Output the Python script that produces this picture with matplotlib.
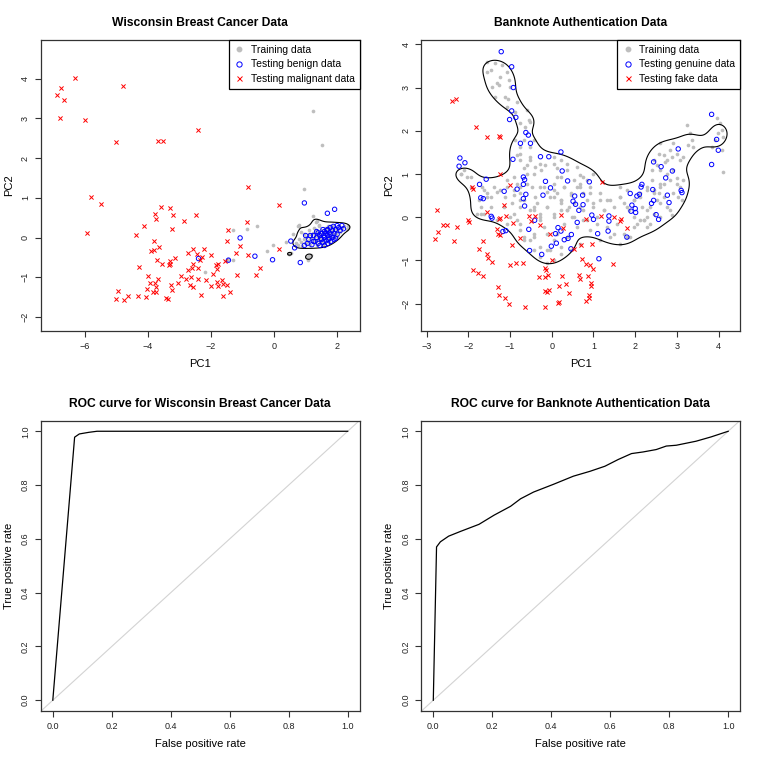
import numpy as np
import matplotlib
matplotlib.use('Agg')
import matplotlib.pyplot as plt
from matplotlib.lines import Line2D

plt.rcParams['font.family'] = ['Liberation Sans', 'DejaVu Sans']

# ---- Wisconsin breast cancer PCA scores ----
wbc_train = [
    (1.23, 3.18), (1.53, 2.32), (0.94, 1.22), (1.23, 0.54), (1.42, 0.31), (-0.53, 0.28),
    (-0.87, 0.22), (-1.29, 0.2), (-2.19, -0.88), (-1.29, -0.57), (-0.24, -0.35), (-0.03, -0.18),
    (0.39, -0.11), (0.46, -0.42), (0.6, 0.1), (0.86, 0.14), (1.07, -0.57), (-1.5, -0.57), (-1.45, -0.55),
    (0.75, -0.2), (0.85, -0.12), (0.9, -0.22), (0.95, -0.05), (1.0, -0.15), (1.02, 0.02), (1.08, -0.1),
    (1.12, 0.08), (1.15, -0.2), (1.2, -0.02), (1.22, 0.12), (1.28, -0.12), (1.3, 0.05), (1.33, 0.2),
    (1.38, -0.05), (1.4, 0.12), (1.45, -0.15), (1.47, 0.02), (1.5, 0.18), (1.53, -0.08), (1.56, 0.08),
    (1.6, 0.25), (1.62, -0.12), (1.65, 0.02), (1.68, 0.15), (1.72, -0.05), (1.75, 0.1), (1.78, 0.28),
    (1.82, 0.0), (1.85, 0.18), (1.88, 0.08), (1.92, 0.25), (1.95, 0.12), (2.0, 0.2), (2.05, 0.3),
    (2.1, 0.15), (2.15, 0.25), (2.22, 0.3), (2.3, 0.22), (1.35, -0.2), (1.55, -0.18), (1.7, 0.3),
    (1.9, -0.02), (1.25, 0.25), (1.1, 0.2), (0.95, 0.1), (1.42, 0.3), (1.6, 0.0), (1.8, 0.12),
    (1.45, 0.08), (1.15, -0.05), (1.65, 0.22), (2.0, 0.05), (1.75, -0.12), (1.3, -0.08), (1.5, 0.0),
    (1.7, 0.08), (1.85, 0.3), (1.58, 0.15), (1.38, 0.05), (0.7, -0.15), (0.8, -0.05), (2.35, 0.28),
    (0.76, 0.3), (0.8, 0.32), (1.32, 0.4), (1.36, 0.42), (1.05, -0.5), (1.12, -0.46), (1.18, -0.43),
    (0.48, -0.42), (0.52, -0.4),
]
wbc_benign = [
    (-2.4, -0.53), (-1.45, -0.57), (-1.08, -0.01), (-0.61, -0.47), (-0.05, -0.56), (0.96, 0.87),
    (1.69, 0.61), (1.92, 0.71), (0.53, -0.09), (0.65, -0.26), (0.83, -0.63), (0.96, -0.2), (1.0, 0.05),
    (1.3, -0.1), (1.35, 0.0), (1.4, -0.15), (1.45, 0.05), (1.5, -0.05), (1.5, 0.1), (1.55, -0.12),
    (1.6, 0.0), (1.6, 0.15), (1.65, -0.08), (1.7, 0.05), (1.7, 0.2), (1.75, -0.02), (1.75, 0.12),
    (1.8, 0.08), (1.8, -0.1), (1.85, 0.0), (1.85, 0.18), (1.9, 0.1), (1.9, -0.05), (1.95, 0.2),
    (2.0, 0.08), (2.05, 0.25), (2.1, 0.18), (2.15, 0.3), (2.2, 0.22), (1.55, 0.2), (1.65, 0.1),
    (1.45, -0.2), (1.4, 0.12), (1.25, 0.05), (1.2, -0.18), (1.1, -0.05), (1.05, -0.15), (1.95, -0.02),
    (2.0, 0.3), (1.7, -0.15), (1.6, -0.2), (1.35, 0.15), (1.78, 0.25), (1.58, 0.05), (1.68, 0.18),
    (1.88, 0.28), (1.48, -0.02), (1.72, -0.05), (1.15, 0.05), (1.25, -0.1),
]
wbc_malignant = [
    (-6.33, 4.02), (-6.89, 3.58), (-6.75, 3.75), (-6.68, 3.45), (-6.79, 3.0), (-6.0, 2.95), (-4.8, 3.82),
    (-5.01, 2.40), (-3.68, 2.44), (-3.54, 2.44), (-2.42, 2.71), (-0.84, 1.28), (-5.82, 1.02), (-5.51, 0.85),
    (-5.94, 0.12), (0.14, 0.81), (-0.87, 0.39), (-0.84, -0.43), (0.14, -0.28), (-1.46, 0.2), (-1.49, -0.09),
    (-1.21, -0.38), (-1.08, -0.22), (-1.19, -0.95), (-0.45, -0.76), (-0.58, -0.94), (-1.56, -0.60),
    (-1.4, -1.37), (-1.64, -1.08), (-1.61, -1.16), (-1.63, -1.48), (-1.51, -1.2), (-1.81, -0.8),
    (-1.77, -0.66), (-1.84, -0.7), (-1.93, -0.92), (-2.0, -0.43), (-1.82, -1.12), (-2.0, -1.23),
    (-1.79, -1.22), (-2.17, -1.08), (-2.32, -1.44), (-2.24, -0.28), (-2.28, -0.49), (-2.35, -0.57),
    (-2.42, -0.76), (-2.42, -1.04), (-2.45, -0.41), (-2.47, 0.56), (-2.58, -0.28), (-2.58, -0.66),
    (-2.61, -0.76), (-2.63, -1.0), (-2.66, -1.2), (-2.59, -1.24), (-2.73, -0.39), (-2.74, -0.81),
    (-2.79, -1.05), (-2.87, 0.41), (-2.97, -0.98), (-3.04, -1.14), (-3.14, -0.52), (-3.32, 0.74),
    (-3.2, 0.56), (-3.25, 0.21), (-3.32, -0.59), (-3.29, -0.66), (-3.33, -0.7), (-3.26, -1.19),
    (-3.25, -1.33), (-3.38, -1.54), (-3.44, -1.52), (-3.56, -0.66), (-3.58, 0.77), (-3.64, -0.24),
    (-3.72, -0.57), (-3.69, -1.04), (-3.75, 0.46), (-3.78, 0.6), (-3.82, -0.09), (-3.82, -0.32),
    (-3.92, -0.34), (-3.74, -1.24), (-3.75, -1.37), (-3.79, -1.14), (-3.86, -1.37), (-3.93, -1.14),
    (-3.99, -0.97), (-4.05, -1.29), (-4.07, -1.5), (-4.14, 0.29), (-4.28, -0.73), (-4.33, -1.47),
    (-4.37, 0.07), (-4.64, -1.47), (-4.77, -1.58), (-4.96, -1.35), (-5.03, -1.54),
]

# ---- Banknote authentication PCA scores ----
bank_train = [
    (-1.54, 3.58), (-1.46, 3.41), (-1.54, 3.35), (-1.35, 3.56), (-1.19, 3.52), (-1.23, 3.25), (-1.07, 3.37),
    (-1.43, 3.02), (-1.27, 3.06), (-1.31, 3.1), (-1.03, 3.17), (-0.99, 3.02), (-1.35, 2.79), (-1.11, 2.79),
    (-1.05, 2.73), (-0.83, 2.67), (-1.07, 2.56), (-0.87, 2.44), (-0.59, 2.48), (-0.55, 2.25), (-0.75, 2.17),
    (-0.63, 2.09), (-0.51, 2.21), (-0.67, 1.78), (-0.87, 1.78), (-0.51, 1.63), (-0.75, 1.63), (-0.43, 1.78),
    (-0.83, 1.44), (-0.75, 1.32), (-0.51, 1.32), (-0.39, 1.17), (-0.67, 1.13), (-0.59, 1.2), (-0.26, 1.09),
    (-0.15, 1.2), (0.05, 1.24), (0.13, 1.13), (0.21, 1.32), (0.37, 1.09), (0.21, 0.93), (0.05, 0.78),
    (0.29, 0.7), (0.53, 0.86), (0.61, 0.7), (0.68, 0.97), (0.84, 0.86), (0.76, 0.55), (0.45, 0.51),
    (-2.1, 1.09), (-2.18, 1.01), (-2.02, 0.93), (-1.94, 0.7), (-1.66, 0.7), (-1.54, 0.55), (-1.7, 0.24),
    (-1.62, 0.08), (-1.78, 0.08), (-1.46, 0.47), (-1.39, 0.7), (-1.31, 0.59), (-1.07, 0.7), (-1.11, 0.47),
    (-0.95, 0.32), (-0.91, 0.51), (-0.83, 0.78), (-0.75, 0.55), (-0.67, 0.39), (-0.47, 0.7), (-0.39, 0.47),
    (-0.27, 0.7), (-0.11, 0.59), (-0.03, 0.47), (0.13, 0.55), (0.21, 0.39), (-0.43, 0.24), (-0.27, 0.08),
    (-0.11, 0.24), (0.05, 0.08), (0.21, 0.16), (0.41, 0.24), (0.49, 0.0), (0.68, 0.24), (0.84, 0.39),
    (-0.75, 1.47), (-0.51, 1.4), (-0.27, 1.24), (0.05, 1.4), (0.37, 1.24), (0.61, 1.17), (0.76, 0.93),
    (1.0, 1.01), (0.92, 0.7), (-0.43, 1.01), (-0.59, 0.78), (-0.19, 0.7), (0.13, 0.93), (0.29, 0.7),
    (0.45, 0.55), (0.68, 0.78), (0.05, 0.47), (0.21, 0.32), (-0.11, 0.24), (-0.27, 0.01), (-0.43, 0.16),
    (-0.75, 0.39), (-0.91, 0.63), (-0.99, 0.01), (-0.75, -0.15), (-0.43, -0.38), (-0.19, -0.22),
    (0.05, 0.01), (0.29, -0.15), (0.53, 0.01), (0.76, 0.16), (1.0, 0.32), (1.16, 0.55), (1.32, 0.39),
    (1.48, 0.24), (1.64, 0.47), (1.8, 0.24), (1.96, 0.39), (2.12, 0.55), (2.28, 0.16), (2.12, -0.07),
    (1.96, -0.22), (1.8, -0.46), (1.56, -0.15), (1.4, -0.46), (1.16, -0.53), (0.92, -0.3), (0.68, -0.61),
    (0.45, -0.76), (0.21, -0.84), (-0.03, -0.76), (-0.27, -0.92), (-0.43, -0.76), (-0.51, -0.53),
    (-0.67, -0.46), (0.05, -1.0), (-0.11, -1.07), (0.37, -0.46), (0.61, -0.22), (1.08, -0.15),
    (0.84, -0.07), (1.24, 0.16), (0.37, 0.16), (0.13, -0.38),
    (3.23, 2.13), (3.31, 1.94), (3.35, 1.78), (3.39, 1.63), (3.27, 1.67), (2.91, 1.71), (2.83, 1.55),
    (2.6, 1.71), (2.56, 1.47), (2.68, 1.44), (2.75, 1.32), (2.87, 1.4), (2.99, 1.47), (3.07, 1.32),
    (3.15, 1.4), (2.71, 1.28), (2.52, 1.2), (2.44, 1.32), (2.4, 1.09), (2.6, 1.09), (2.75, 1.01),
    (2.91, 1.09), (2.99, 0.9), (2.83, 0.86), (2.68, 0.78), (2.6, 0.7), (2.44, 0.63), (2.28, 0.7),
    (2.56, 0.55), (2.68, 0.47), (2.6, 0.32), (2.75, 0.24), (2.83, 0.16), (2.87, 0.05), (2.44, 0.08),
    (2.28, 0.01), (2.2, -0.07), (2.36, -0.15), (2.6, 0.01), (2.91, 0.55), (3.03, 0.47), (2.99, 0.78),
    (3.11, 0.39), (3.95, 2.29), (4.03, 2.17), (3.99, 1.94), (4.07, 2.02), (4.11, 1.86), (3.91, 1.78),
    (3.83, 1.63), (4.07, 1.55), (4.11, 1.05), (3.07, 0.7), (3.15, 0.86),
    (1.64, 0.47), (1.72, 0.32), (1.84, 0.16), (1.96, 0.01), (2.04, -0.15), (2.2, -0.07), (2.28, -0.22),
    (2.16, 0.24), (2.36, 0.24), (2.52, 0.39), (2.44, 0.55), (2.6, 0.78), (2.4, 0.86), (2.28, 0.63),
    (2.12, 0.47), (1.96, 0.39), (1.8, 0.63), (1.64, 0.7), (1.4, 0.39), (1.24, 0.16), (1.16, 0.39),
    (1.0, 0.24), (0.92, 0.55), (1.08, 0.01), (1.32, -0.22), (1.48, -0.38), (1.72, -0.38), (1.88, -0.46),
    (1.64, -0.61),
    (-2.18, 1.01), (-1.94, 0.93), (-1.62, 0.63), (-1.54, 0.47), (-1.74, 0.39), (-1.7, 0.08), (-1.46, 0.24),
    (-1.23, 0.63), (-1.07, 0.86), (-0.91, 0.93), (-0.75, 0.7), (-0.59, 1.01), (-1.15, 0.24), (-0.91, 0.08),
    (-0.83, -0.07), (-1.07, -0.15), (-1.31, -0.07), (-0.75, 0.24), (-0.51, 0.16), (-0.35, 0.32),
    (-0.27, -0.07), (-0.11, -0.38), (-0.43, -0.46), (-0.67, -0.53), (-0.75, -0.3), (-0.27, -0.69),
    (-0.11, -0.76), (0.05, -0.53), (0.21, -0.69), (0.37, 0.16), (0.53, 0.32), (0.05, 0.63), (0.21, 0.39),
    (0.68, 0.7), (0.76, -0.07),
]
bank_genuine = [
    (-1.21, 3.83), (-0.96, 3.48), (-0.92, 3.0), (-0.96, 2.46), (-1.01, 2.26), (-0.86, 2.31), (-0.62, 1.96),
    (-0.56, 1.9), (-0.75, 1.71), (-0.51, 1.71), (-0.93, 1.34), (-0.27, 1.4), (-0.07, 1.4), (0.22, 1.51),
    (0.25, 1.07), (0.38, 0.84), (-2.2, 1.37), (-2.22, 1.18), (-2.08, 1.26), (-1.57, 0.88), (-1.73, 0.76),
    (-1.7, 0.45), (-1.64, 0.43), (-1.14, 0.6), (-0.83, 0.65), (-0.68, 0.93), (-0.65, 0.87), (-0.68, 0.76),
    (-0.62, 0.53), (-0.68, 0.43), (-0.65, 0.26), (-1.45, 0.02), (-1.43, -0.02), (-1.17, -0.33),
    (-1.1, -0.31), (-0.55, -0.28), (-0.53, -0.77), (-0.41, -0.07), (-0.21, 0.51), (-0.15, 0.83),
    (-0.03, 0.68), (-0.24, -0.86), (-0.01, -0.67), (0.09, -0.38), (0.11, -0.6), (0.15, -0.24),
    (0.22, -0.32), (0.3, -0.52), (0.39, -0.49), (0.47, -0.4), (0.46, -0.73), (0.55, 0.49), (0.51, 0.37),
    (0.57, 0.3), (0.65, 0.16), (0.61, -0.12), (0.74, 0.51), (0.75, 0.29), (0.9, 0.82), (0.96, 0.05),
    (1.0, -0.05), (1.1, -0.38), (1.13, -0.96), (1.35, -0.32), (1.37, 0.03), (1.37, -0.09), (1.8, -0.46),
    (1.88, 0.55), (1.92, 0.28), (1.9, 0.14), (2.0, 0.2), (2.01, 0.11), (2.04, 0.49), (2.1, 0.53),
    (2.16, 0.76), (2.14, 0.7), (2.42, 0.64), (2.44, 0.39), (2.39, 0.32), (2.44, 1.28), (2.62, 1.17),
    (2.5, 0.06), (2.56, -0.05), (2.73, 0.91), (2.89, 1.07), (2.77, 0.51), (2.81, 0.34), (3.03, 1.58),
    (3.1, 0.62), (3.12, 0.57), (3.83, 2.38), (3.95, 1.8), (3.99, 1.55), (3.83, 1.22),
]
bank_fake = [
    (-2.38, 2.69), (-2.29, 2.73), (-1.81, 2.09), (-1.56, 1.86), (-1.26, 1.88), (-1.24, 1.85), (-1.24, 1.01),
    (-1.01, 0.74), (-1.14, 0.28), (-1.09, 0.03), (-0.92, -0.13), (-1.26, -0.05), (-1.25, -0.02),
    (-1.32, -0.28), (-1.29, -0.38), (-1.25, -0.4), (-0.95, -0.65), (-0.77, -0.49), (-1.01, -1.1),
    (-0.86, -1.05), (-0.7, -1.05), (-1.56, 0.12), (-1.64, -0.56), (-1.75, -0.74), (-1.56, -0.86),
    (-1.53, -0.94), (-1.44, -1.03), (-1.9, 0.7), (-1.89, 0.65), (-2.0, -0.07), (-1.98, -0.1),
    (-2.27, -0.22), (-2.33, -0.56), (-2.5, -0.19), (-2.61, -0.19), (-2.72, -0.34), (-2.76, 0.16),
    (-2.79, -0.51), (-1.88, -1.23), (-1.76, -1.28), (-1.64, -1.36), (-1.28, -1.61), (-1.27, -1.79),
    (-1.12, -1.87), (-1.02, -2.01), (-0.65, -2.08), (-0.16, -2.08), (-0.55, 0.03), (-0.49, -0.09),
    (-0.41, 0.03), (-0.28, -0.19), (-0.03, -0.38), (0.01, -0.98), (-0.15, -1.17), (-0.13, -1.23),
    (-0.3, -1.38), (-0.17, -1.38), (-0.08, -1.34), (-0.16, -1.71), (-0.07, -1.69), (-0.11, -1.73),
    (0.17, -1.97), (0.15, -1.98), (0.17, -1.58), (0.24, -1.37), (0.33, -1.55), (0.41, -1.75),
    (0.21, 0.05), (0.27, -0.24), (0.54, -0.73), (0.69, -0.65), (0.65, -1.33), (0.67, -1.42), (0.82, -0.05),
    (0.73, -0.97), (0.82, -1.09), (0.91, -1.1), (0.98, -1.19), (0.86, -1.37), (0.93, -1.51), (0.94, -1.6),
    (0.89, -1.81), (0.9, -1.86), (0.81, -1.94), (0.97, -0.63), (1.19, 0.02), (1.2, 0.82), (1.46, -1.09),
    (1.48, 0.01), (1.63, -0.08), (1.66, -0.05), (1.8, -0.24),
]

# ---- ROC curves ----
roc_wbc_fpr = [0.0, 0.074, 0.09, 0.122, 0.15, 1.0]
roc_wbc_tpr = [0.0, 0.978, 0.99, 0.996, 1.0, 1.0]
roc_bank_fpr = [0.0, 0.011, 0.024, 0.052, 0.093, 0.155, 0.206, 0.262, 0.296, 0.34, 0.408, 0.475,
                0.531, 0.582, 0.627, 0.672, 0.711, 0.756, 0.79, 0.824, 0.891, 0.942, 1.0]
roc_bank_tpr = [0.0, 0.57, 0.589, 0.61, 0.628, 0.654, 0.688, 0.721, 0.749, 0.774, 0.803, 0.833,
                0.851, 0.87, 0.895, 0.917, 0.923, 0.932, 0.945, 0.948, 0.963, 0.979, 1.0]


def kde2d(px, py, hx, hy, xg, yg):
    gx = np.exp(-0.5 * ((xg[:, None] - px[None, :]) / hx) ** 2)
    gy = np.exp(-0.5 * ((yg[:, None] - py[None, :]) / hy) ** 2)
    return gy @ gx.T / (len(px) * 2 * np.pi * hx * hy)


def density_contour(ax, pts, hx, hy, frac):
    px, py = pts[:, 0], pts[:, 1]
    x0, x1 = ax.get_xlim()
    y0, y1 = ax.get_ylim()
    xg = np.linspace(x0, x1, 300)
    yg = np.linspace(y0, y1, 300)
    z = kde2d(px, py, hx, hy, xg, yg)
    dens = np.array([kde2d(px, py, hx, hy, np.array([a]), np.array([b]))[0, 0] for a, b in pts])
    level = np.quantile(dens, frac)
    ax.contour(xg, yg, z, levels=[level], colors='black', linewidths=0.8)


def style(ax, xticks, yticks, fmt=None):
    ax.set_xticks(xticks)
    ax.set_yticks(yticks)
    if fmt:
        ax.set_xticklabels([fmt % t for t in xticks])
        ax.set_yticklabels([fmt % t for t in yticks])
    ax.tick_params(direction='out', length=4, width=0.8, labelsize=6.5, pad=4, color='#333333',
                   labelcolor='#222222')
    for lab in ax.get_yticklabels():
        lab.set_rotation(90)
        lab.set_va('center')
    for s in ax.spines.values():
        s.set_linewidth(0.9)
        s.set_color('#333333')


def scatter_panel(ax, train, test_a, test_b, xlim, ylim, labels, title, bw, frac):
    train, test_a, test_b = np.array(train), np.array(test_a), np.array(test_b)
    ax.set_xlim(*xlim)
    ax.set_ylim(*ylim)
    ax.scatter(train[:, 0], train[:, 1], s=7, color='#BEBEBE', linewidths=0, zorder=2)
    density_contour(ax, train, bw[0], bw[1], frac)
    ax.scatter(test_a[:, 0], test_a[:, 1], s=10, facecolors='none', edgecolors='blue',
               linewidths=0.7, zorder=3)
    ax.scatter(test_b[:, 0], test_b[:, 1], s=9, marker='x', color='red', linewidths=0.7, zorder=3)
    handles = [
        Line2D([], [], ls='none', marker='o', ms=3.2, color='#BEBEBE'),
        Line2D([], [], ls='none', marker='o', ms=3.8, mfc='none', mec='blue', mew=0.7),
        Line2D([], [], ls='none', marker='x', ms=3.6, color='red', mew=0.7),
    ]
    leg = ax.legend(handles, labels, loc='upper right', fontsize=7.5, frameon=True, fancybox=False,
                    borderaxespad=0, handlelength=1.2, handletextpad=0.5, borderpad=0.45,
                    labelspacing=0.45, framealpha=1)
    leg.get_frame().set_edgecolor('black')
    leg.get_frame().set_linewidth(0.9)
    leg.set_zorder(5)
    ax.set_title(title, fontsize=8.7, fontweight='bold', pad=10)
    ax.set_xlabel('PC1', fontsize=8, labelpad=6)
    ax.set_ylabel('PC2', fontsize=8, labelpad=5)


def roc_panel(ax, fpr, tpr, title):
    ax.set_xlim(-0.04, 1.04)
    ax.set_ylim(-0.04, 1.04)
    ax.axline((0, 0), (1, 1), color='#D3D3D3', lw=0.8)
    ax.plot(fpr, tpr, color='black', lw=0.9)
    style(ax, np.arange(0, 1.01, 0.2), np.arange(0, 1.01, 0.2), '%.1f')
    ax.set_title(title, fontsize=8.7, fontweight='bold', pad=10)
    ax.set_xlabel('False positive rate', fontsize=8, labelpad=6)
    ax.set_ylabel('True positive rate', fontsize=8, labelpad=5)


W = 761
fig = plt.figure(figsize=(7.61, 7.61), dpi=100)


def panel(col, row):
    left = col * W / 2 + 41
    right = (col + 1) * W / 2 - 21
    top = row * W / 2 + 40
    bottom = (row + 1) * W / 2 - 50
    return fig.add_axes([left / W, 1 - bottom / W, (right - left) / W, (bottom - top) / W])


ax1 = panel(0, 0)
scatter_panel(ax1, wbc_train, wbc_benign, wbc_malignant, (-7.40, 2.71), (-2.34, 4.97),
              ['Training data', 'Testing benign data', 'Testing malignant data'],
              'Wisconsin Breast Cancer Data', (0.17, 0.09), 0.2)
style(ax1, [-6, -4, -2, 0, 2], [-2, -1, 0, 1, 2, 3, 4])

ax2 = panel(1, 0)
scatter_panel(ax2, bank_train, bank_genuine, bank_fake, (-3.12, 4.51), (-2.62, 4.10),
              ['Training data', 'Testing genuine data', 'Testing fake data'],
              'Banknote Authentication Data', (0.28, 0.2), 0.03)
style(ax2, [-3, -2, -1, 0, 1, 2, 3, 4], [-2, -1, 0, 1, 2, 3, 4])

ax3 = panel(0, 1)
roc_panel(ax3, roc_wbc_fpr, roc_wbc_tpr, 'ROC curve for Wisconsin Breast Cancer Data')

ax4 = panel(1, 1)
roc_panel(ax4, roc_bank_fpr, roc_bank_tpr, 'ROC curve for Banknote Authentication Data')

fig.savefig('out.png', dpi=100)
